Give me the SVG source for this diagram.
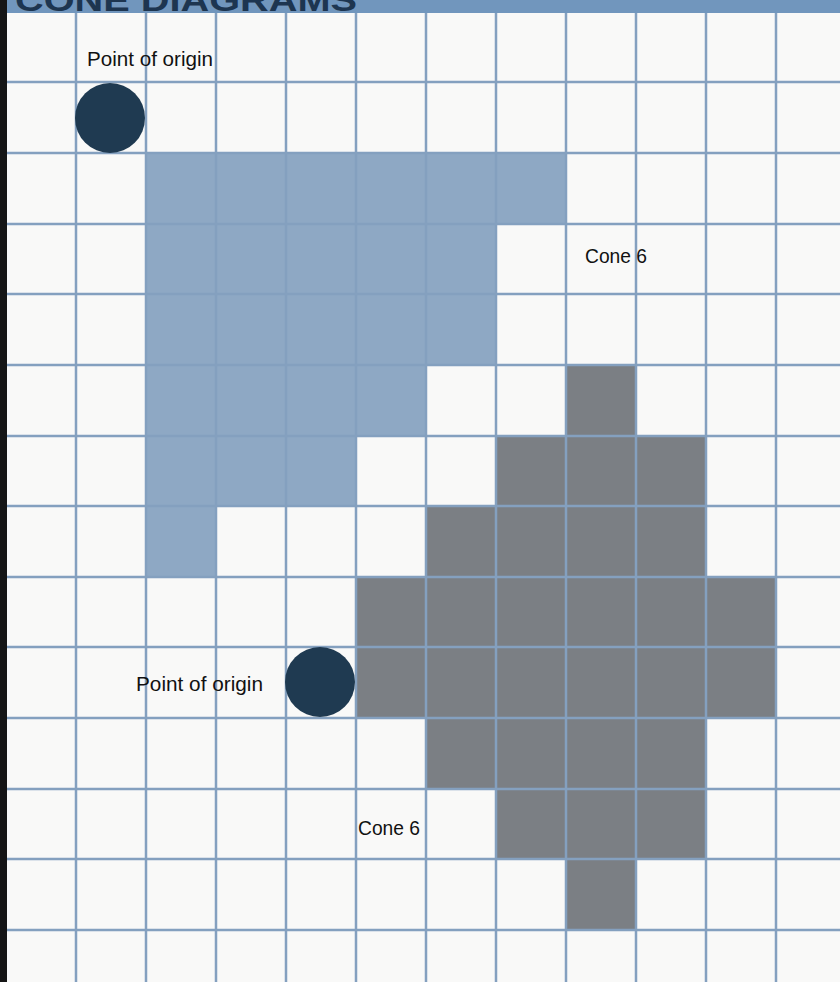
<svg xmlns="http://www.w3.org/2000/svg" width="840" height="982" viewBox="0 0 840 982">
  <style>
    .grid line { stroke: #84a0bf; stroke-width: 2.5; }
    .label { font-family: "Liberation Sans", Arial, sans-serif; font-size: 20px; fill: #111; }
    .origin { fill: #1f3a51; }
  </style>
  <rect x="0" y="0" width="840" height="982" fill="#f9f9f8"/>
  <g id="cone-blue">
    <path d="M146,153 H566 V224 H496 V365 H426 V436 H356 V506 H216 V577 H146 Z" fill="#8ea8c4"/>
  </g>
  <g id="cone-gray">
    <path d="M566,365 H636 V436 H706 V577 H776 V718 H706 V859 H636 V930 H566 V859 H496 V789 H426 V718 H356 V577 H426 V506 H496 V436 H566 Z" fill="#7b7f84"/>
  </g>
  <g class="grid" id="grid">
    <line x1="76" y1="0" x2="76" y2="982"/>
    <line x1="146" y1="0" x2="146" y2="982"/>
    <line x1="216" y1="0" x2="216" y2="982"/>
    <line x1="286" y1="0" x2="286" y2="982"/>
    <line x1="356" y1="0" x2="356" y2="982"/>
    <line x1="426" y1="0" x2="426" y2="982"/>
    <line x1="496" y1="0" x2="496" y2="982"/>
    <line x1="566" y1="0" x2="566" y2="982"/>
    <line x1="636" y1="0" x2="636" y2="982"/>
    <line x1="706" y1="0" x2="706" y2="982"/>
    <line x1="776" y1="0" x2="776" y2="982"/>
    <line x1="0" y1="82" x2="840" y2="82"/>
    <line x1="0" y1="153" x2="840" y2="153"/>
    <line x1="0" y1="224" x2="840" y2="224"/>
    <line x1="0" y1="294" x2="840" y2="294"/>
    <line x1="0" y1="365" x2="840" y2="365"/>
    <line x1="0" y1="436" x2="840" y2="436"/>
    <line x1="0" y1="506" x2="840" y2="506"/>
    <line x1="0" y1="577" x2="840" y2="577"/>
    <line x1="0" y1="647" x2="840" y2="647"/>
    <line x1="0" y1="718" x2="840" y2="718"/>
    <line x1="0" y1="789" x2="840" y2="789"/>
    <line x1="0" y1="859" x2="840" y2="859"/>
    <line x1="0" y1="930" x2="840" y2="930"/>
  </g>
  <g id="header">
    <rect x="0" y="0" width="840" height="13" fill="#7196bd"/>
    <text x="15" y="11" font-family="'Liberation Sans', Arial, sans-serif" font-weight="bold" font-size="32" fill="#1d3550" textLength="342" lengthAdjust="spacingAndGlyphs">CONE DIAGRAMS</text>
  </g>
  <rect x="0" y="0" width="7" height="982" fill="#151515"/>
  <g id="origin-1">
    <circle class="origin" cx="110" cy="118" r="35"/>
    <text class="label" x="87" y="66" textLength="126" lengthAdjust="spacingAndGlyphs">Point of origin</text>
  </g>
  <g id="label-cone6-top">
    <text class="label" x="585" y="263" textLength="62" lengthAdjust="spacingAndGlyphs">Cone 6</text>
  </g>
  <g id="origin-2">
    <circle class="origin" cx="320" cy="682" r="35"/>
    <text class="label" x="136" y="691" textLength="127" lengthAdjust="spacingAndGlyphs">Point of origin</text>
  </g>
  <g id="label-cone6-bottom">
    <text class="label" x="358" y="835" textLength="62" lengthAdjust="spacingAndGlyphs">Cone 6</text>
  </g>
</svg>
